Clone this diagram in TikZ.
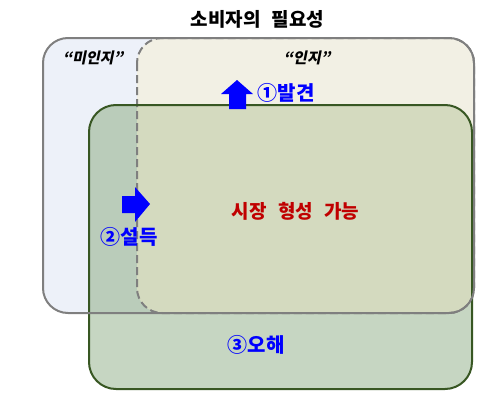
\documentclass[tikz,border=0pt]{standalone}
\usepackage{fontspec}
\newfontfamily\kr{Noto Sans CJK KR}
\newfontfamily\krit[FakeSlant=0.2]{Noto Sans CJK KR}
\definecolor{blueF}{HTML}{EDF1F9}
\definecolor{beigeF}{HTML}{F2F0E4}
\definecolor{greenF}{HTML}{C6D6C2}
\definecolor{greenBlue}{HTML}{BACCBA}
\definecolor{greenBeige}{HTML}{D4DABF}
\definecolor{grayL}{HTML}{7F7F7F}
\definecolor{greenL}{HTML}{385723}
\definecolor{redT}{HTML}{C00000}
\definecolor{blueT}{HTML}{0000FF}
\newcommand\wsp{\hspace{0.6em}}
\tikzset{
  titletext/.style={font=\kr\bfseries\fontsize{19}{22}\selectfont, text=black, inner sep=0pt},
  quotetext/.style={font=\krit\bfseries\fontsize{15}{17}\selectfont, text=black, inner sep=0pt},
  bluelbl/.style={font=\kr\bfseries\fontsize{20}{22}\selectfont, text=blueT, inner sep=0pt},
  redlbl/.style={font=\kr\bfseries\fontsize{19}{22}\selectfont, text=redT, inner sep=0pt},
  bluearrow/.style={fill=blueT, draw=none},
  grayline/.style={draw=grayL, line width=2pt},
  dashline/.style={draw=grayL, line width=2pt, dash pattern=on 8pt off 4pt},
  greenline/.style={draw=greenL, line width=2pt},
}
\begin{document}
\begin{tikzpicture}[x=1pt,y=-1pt]
\useasboundingbox (0,0) rectangle (496,407);
% fills
\fill[blueF, rounded corners=25] (43,38) rectangle (474,313);
\fill[beigeF, rounded corners=25] (137,38) rectangle (474,313);
\fill[greenF, rounded corners=27] (89,105) rectangle (472,389);
\begin{scope}
  \clip[rounded corners=25] (43,38) rectangle (474,313);
  \fill[greenBlue, rounded corners=27] (89,105) rectangle (472,389);
\end{scope}
\begin{scope}
  \clip[rounded corners=25] (137,38) rectangle (474,313);
  \fill[greenBeige, rounded corners=27] (89,105) rectangle (472,389);
\end{scope}
% borders
\draw[dashline, rounded corners=25] (137,38) rectangle (474,313);
\draw[greenline, rounded corners=27] (89,105) rectangle (472,389);
\draw[grayline, rounded corners=25] (43,38) rectangle (474,313);
% arrows
\fill[bluearrow] (229,109) -- (229,94) -- (221,94) -- (237,80) -- (253,94) -- (246,94) -- (246,109) -- cycle;
\fill[bluearrow] (122,196) -- (135,196) -- (135,187) -- (150,204) -- (135,222) -- (135,213) -- (122,213) -- cycle;
% texts
\node[titletext] (title) at (257.5,19) {소비자의\wsp 필요성};
\node[quotetext] (mi) at (93,58) {“미인지”};
\node[quotetext] (in) at (307,58) {“인지”};
\node[bluelbl] (l1) at (286,93) {①발견};
\node[bluelbl] (l2) at (129,237) {②설득};
\node[redlbl] (mk) at (295.5,211) {시장\wsp 형성\wsp 가능};
\node[bluelbl] (l3) at (256,345) {③오해};
\end{tikzpicture}
\end{document}
